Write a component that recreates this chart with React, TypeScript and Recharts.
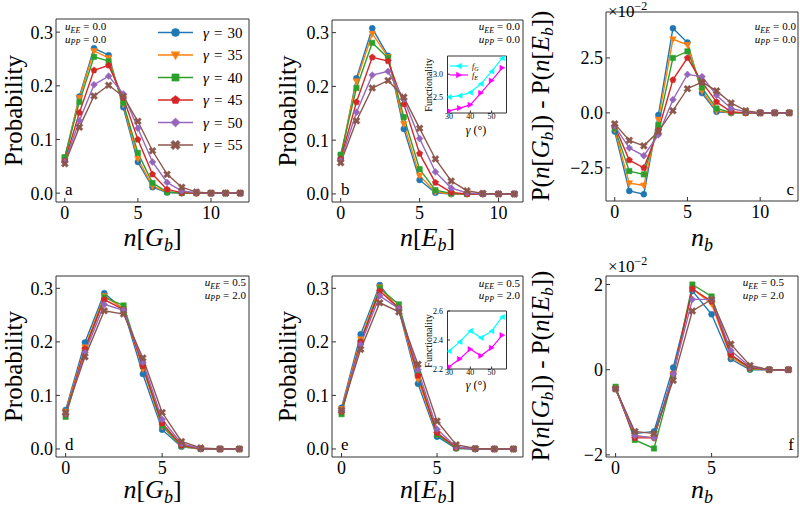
import React from 'react';
import { LineChart, Line, XAxis, YAxis } from 'recharts';

const FONT = '"Liberation Serif", "DejaVu Serif", serif';
const FRAME = '#333333';

// gamma values, one series per value
const gammas = [30, 35, 40, 45, 50, 55];
const colors = ['#1f77b4', '#ff7f0e', '#2ca02c', '#d62728', '#9467bd', '#8c564b'];
const markers = ['o', 'v', 's', 'p', 'D', 'X'];

// bond counts on the x axes
const nTopG = [0, 1, 2, 3, 4, 5, 6, 7, 8, 9, 10, 11, 12];
const nTopE = [0, 1, 2, 3, 4, 5, 6, 7, 8, 9, 10, 11];
const nBottom = [0, 1, 2, 3, 4, 5, 6, 7, 8, 9];

// (a) P(n[G_b]), uEE = 0.0, uPP = 0.0 -- rows ordered like gammas
const probGa = [
  [0.065, 0.180, 0.270, 0.257, 0.160, 0.058, 0.011, 0.001, 0, 0, 0, 0, 0],
  [0.066, 0.178, 0.265, 0.252, 0.165, 0.064, 0.013, 0.002, 0, 0, 0, 0, 0],
  [0.067, 0.170, 0.254, 0.246, 0.168, 0.075, 0.019, 0.002, 0.0003, 0, 0, 0, 0],
  [0.060, 0.150, 0.229, 0.238, 0.178, 0.100, 0.035, 0.007, 0.001, 0, 0, 0, 0],
  [0.058, 0.135, 0.202, 0.218, 0.185, 0.121, 0.058, 0.020, 0.004, 0.001, 0, 0, 0],
  [0.055, 0.123, 0.181, 0.201, 0.180, 0.134, 0.079, 0.035, 0.011, 0.002, 0, 0, 0],
];

// (b) P(n[E_b]), uEE = 0.0, uPP = 0.0
const probEb = [
  [0.065, 0.215, 0.308, 0.257, 0.121, 0.026, 0.002, 0, 0, 0, 0, 0],
  [0.070, 0.210, 0.298, 0.255, 0.130, 0.034, 0.004, 0, 0, 0, 0, 0],
  [0.073, 0.197, 0.281, 0.253, 0.143, 0.046, 0.007, 0.001, 0, 0, 0, 0],
  [0.065, 0.171, 0.254, 0.247, 0.167, 0.075, 0.021, 0.003, 0, 0, 0, 0],
  [0.062, 0.152, 0.221, 0.228, 0.176, 0.103, 0.041, 0.011, 0.002, 0, 0, 0],
  [0.058, 0.136, 0.197, 0.211, 0.180, 0.122, 0.065, 0.024, 0.006, 0.001, 0, 0],
];

// (c) P(n[G_b]) - P(n[E_b]), uEE = 0.0, uPP = 0.0
const diffC = [
  [-0.0085, -0.0355, -0.037, -0.001, 0.0385, 0.032, 0.009, 0.0005, 0, 0, 0, 0, 0],
  [-0.0075, -0.032, -0.033, -0.003, 0.0335, 0.031, 0.010, 0.001, 0, 0, 0, 0, 0],
  [-0.007, -0.0265, -0.028, -0.0055, 0.025, 0.028, 0.0115, 0.002, 0.0002, 0, 0, 0, 0],
  [-0.006, -0.0215, -0.025, -0.008, 0.015, 0.025, 0.014, 0.005, 0.0005, 0, 0, 0, 0],
  [-0.006, -0.016, -0.0195, -0.010, 0.006, 0.0175, 0.0165, 0.008, 0.002, 0.0005, 0, 0, 0],
  [-0.005, -0.0125, -0.015, -0.0085, 0.001, 0.011, 0.014, 0.010, 0.0045, 0.001, 0, 0, 0],
];

// (d) P(n[G_b]), uEE = 0.5, uPP = 2.0
const probGd = [
  [0.073, 0.199, 0.291, 0.260, 0.140, 0.036, 0.004, 0, 0, 0],
  [0.070, 0.190, 0.286, 0.262, 0.150, 0.042, 0.005, 0, 0, 0],
  [0.060, 0.185, 0.283, 0.268, 0.155, 0.044, 0.006, 0.0005, 0, 0],
  [0.065, 0.187, 0.279, 0.260, 0.155, 0.048, 0.007, 0.0005, 0, 0],
  [0.066, 0.180, 0.270, 0.259, 0.162, 0.055, 0.010, 0.001, 0, 0],
  [0.068, 0.172, 0.258, 0.252, 0.170, 0.068, 0.014, 0.002, 0, 0],
];

// (e) P(n[E_b]), uEE = 0.5, uPP = 2.0
const probEe = [
  [0.077, 0.214, 0.306, 0.260, 0.122, 0.023, 0.001, 0, 0, 0],
  [0.075, 0.205, 0.302, 0.262, 0.130, 0.027, 0.002, 0, 0, 0],
  [0.065, 0.200, 0.300, 0.270, 0.140, 0.027, 0.002, 0, 0, 0],
  [0.070, 0.200, 0.295, 0.263, 0.137, 0.030, 0.003, 0, 0, 0],
  [0.072, 0.195, 0.286, 0.262, 0.148, 0.037, 0.004, 0, 0, 0],
  [0.072, 0.186, 0.273, 0.256, 0.158, 0.052, 0.008, 0.001, 0, 0],
];

// (f) P(n[G_b]) - P(n[E_b]), uEE = 0.5, uPP = 2.0
const diffF = [
  [-0.0045, -0.015, -0.0145, 0.0005, 0.0185, 0.013, 0.0025, 0, 0, 0],
  [-0.0045, -0.0155, -0.016, -0.001, 0.019, 0.0155, 0.003, 0.0002, 0, 0],
  [-0.004, -0.0165, -0.0185, -0.0015, 0.020, 0.0172, 0.0035, 0.0003, 0, 0],
  [-0.0045, -0.016, -0.016, -0.001, 0.019, 0.016, 0.0035, 0.0005, 0, 0],
  [-0.0045, -0.0155, -0.016, -0.001, 0.0165, 0.0165, 0.0045, 0.0007, 0, 0],
  [-0.0045, -0.0145, -0.015, -0.0025, 0.0138, 0.0165, 0.006, 0.001, 0, 0],
];

// insets: functionality vs gamma
const fGb = [2.50, 2.53, 2.60, 2.79, 3.06, 3.35];
const fEb = [2.20, 2.26, 2.33, 2.59, 2.86, 3.14];
const fGe = [2.323, 2.387, 2.463, 2.415, 2.461, 2.559];
const fEe = [2.216, 2.269, 2.337, 2.291, 2.346, 2.433];
const insetColors = ['#00ffff', '#ff00ff'];
const insetMarkers = ['<', '>'];

const boxA = { x: 56, y: 19, w: 193, h: 183 };
const boxB = { x: 332, y: 20, w: 191, h: 182 };
const boxC = { x: 606, y: 12, w: 192, h: 189 };
const boxD = { x: 56, y: 276, w: 193, h: 181 };
const boxE = { x: 332, y: 276, w: 191, h: 181 };
const boxF = { x: 606, y: 276, w: 192, h: 181 };
const boxIB = { x: 447.5, y: 56, w: 59, h: 57 };
const boxIE = { x: 447.5, y: 311, w: 59, h: 58 };

const minus = (s: string) => s.replace('-', '\u2212');
const fmt1 = (v: number) => minus(v.toFixed(1));
const fmtC = (v: number) => minus((v * 100).toFixed(1));
const fmtF = (v: number) => minus((v * 100).toFixed(0));

function markerPath(type: string, cx: number, cy: number, s: number) {
  switch (type) {
    case 'v':
      return `M${cx - s * 1.1},${cy - s * 0.8}L${cx + s * 1.1},${cy - s * 0.8}L${cx},${cy + s * 1.2}Z`;
    case 's':
      return `M${cx - s * 0.9},${cy - s * 0.9}h${s * 1.8}v${s * 1.8}h${-s * 1.8}Z`;
    case 'p': {
      const pts = [0, 1, 2, 3, 4].map((i) => {
        const a = -Math.PI / 2 + (i * 2 * Math.PI) / 5;
        return `${cx + s * 1.1 * Math.cos(a)},${cy + s * 1.1 * Math.sin(a)}`;
      });
      return 'M' + pts.join('L') + 'Z';
    }
    case 'D':
      return `M${cx},${cy - s * 1.15}L${cx + s * 1.15},${cy}L${cx},${cy + s * 1.15}L${cx - s * 1.15},${cy}Z`;
    case 'X': {
      const L = s * 1.25;
      const w = s * 0.42;
      const raw = [[w, L], [w, w], [L, w], [L, -w], [w, -w], [w, -L], [-w, -L], [-w, -w], [-L, -w], [-L, w], [-w, w], [-w, L]];
      const pts = raw.map(([x, y]) => `${cx + (x - y) / Math.SQRT2},${cy + (x + y) / Math.SQRT2}`);
      return 'M' + pts.join('L') + 'Z';
    }
    case '<':
      return `M${cx - s * 1.1},${cy}L${cx + s},${cy - s * 1.1}L${cx + s},${cy + s * 1.1}Z`;
    case '>':
      return `M${cx + s * 1.1},${cy}L${cx - s},${cy - s * 1.1}L${cx - s},${cy + s * 1.1}Z`;
    default:
      return `M${cx - s},${cy}a${s},${s} 0 1,0 ${2 * s},0a${s},${s} 0 1,0 ${-2 * s},0Z`;
  }
}

const Mk = ({ cx, cy, type, s, color }: any) => {
  if (cx == null || cy == null || isNaN(cx) || isNaN(cy)) return <g />;
  return <path d={markerPath(type, cx, cy, s)} fill={color} stroke={color} strokeWidth={0.5} />;
};

function Panel({ box, xs, ys, cols, marks, xDomain, yDomain, xTicks, yTicks, yFmt, small }: any) {
  const rows = xs.map((x: number, i: number) => {
    const r: any = { x };
    ys.forEach((s: number[], k: number) => {
      r['s' + k] = s[i];
    });
    return r;
  });
  const fs = small ? 8 : 18;
  const tl = small ? 2.5 : 4;
  const tickStyle = { fontSize: fs, fill: '#000', fontFamily: FONT };
  const common: any = {
    axisLine: { stroke: FRAME, strokeWidth: 1 },
    tickLine: { stroke: FRAME, strokeWidth: 1 },
    tickSize: -tl,
    interval: 0,
    allowDataOverflow: true,
    type: 'number',
  };
  return (
    <div style={{ position: 'absolute', left: 0, top: 0 }}>
      <LineChart
        width={800}
        height={511}
        data={rows}
        style={{ fontFamily: FONT }}
        margin={{
          top: box.y - 1,
          left: box.x - 1,
          right: 800 - box.x - box.w - 1,
          bottom: 511 - box.y - box.h - 1,
        }}
      >
        <XAxis xAxisId="b" dataKey="x" {...common} domain={xDomain} ticks={xTicks} height={1} tickMargin={small ? 3 : 8} tick={tickStyle} />
        <XAxis xAxisId="t" orientation="top" {...common} domain={xDomain} ticks={xTicks} height={1} tick={false} />
        <YAxis yAxisId="l" {...common} domain={yDomain} ticks={yTicks} width={1} tickMargin={7} tick={tickStyle} tickFormatter={yFmt} />
        <YAxis yAxisId="r" orientation="right" {...common} domain={yDomain} ticks={yTicks} width={1} tick={false} />
        {ys.map((_: any, k: number) => (
          <Line
            key={k}
            xAxisId="b"
            yAxisId="l"
            dataKey={'s' + k}
            type="linear"
            stroke={cols[k]}
            strokeWidth={small ? 1.2 : 1.4}
            isAnimationActive={false}
            activeDot={false}
            dot={(p: any) => <Mk key={p.index} cx={p.cx} cy={p.cy} type={marks[k]} s={small ? 2.4 : 3} color={cols[k]} />}
          />
        ))}
      </LineChart>
    </div>
  );
}

const It = ({ children, ...rest }: any) => (
  <tspan fontStyle="italic" {...rest}>
    {children}
  </tspan>
);

function NTitle({ x, y, L }: { x: number; y: number; L?: string }) {
  return (
    <text x={x} y={y} textAnchor="middle" fontSize={26}>
      <It>n</It>
      {L ? (
        <>
          [<It>{L}</It>
          <It fontSize={18} dy={5}>b</It>
          <tspan dy={-5}>]</tspan>
        </>
      ) : (
        <It fontSize={18} dy={5}>b</It>
      )}
    </text>
  );
}

function ProbTitle({ x, y }: { x: number; y: number }) {
  return (
    <text x={x} y={y} transform={`rotate(-90 ${x} ${y})`} textAnchor="middle" fontSize={25}>
      Probability
    </text>
  );
}

function DiffTitle({ x, y }: { x: number; y: number }) {
  return (
    <text x={x} y={y} transform={`rotate(-90 ${x} ${y})`} textAnchor="middle" fontSize={25}>
      P(<It>n</It>[<It>G</It><It fontSize={17} dy={4}>b</It><tspan dy={-4}>]) - P(</tspan><It>n</It>[<It>E</It><It fontSize={17} dy={4}>b</It><tspan dy={-4}>])</tspan>
    </text>
  );
}

function UText({ x, y, anchor, sub, val }: any) {
  return (
    <text x={x} y={y} textAnchor={anchor} fontSize={11}>
      <It>u</It>
      <It fontSize={8} dy={2.5}>{sub}</It>
      <tspan dy={-2.5} dx={3}>=</tspan>
      <tspan dx={3}>{val}</tspan>
    </text>
  );
}

function Offset({ x, y }: { x: number; y: number }) {
  return (
    <text x={x} y={y} fontSize={17}>
      ×10<tspan fontSize={12} dy={-7}>{'\u22122'}</tspan>
    </text>
  );
}

export default function App() {
  return (
    <div style={{ position: 'absolute', left: 0, top: 0, width: 800, height: 511, background: '#fff', fontFamily: FONT }}>
      <Panel box={boxA} xs={nTopG} ys={probGa} cols={colors} marks={markers} xDomain={[-0.6, 12.6]} yDomain={[-0.0165, 0.3245]} xTicks={[0, 5, 10]} yTicks={[0, 0.1, 0.2, 0.3]} yFmt={fmt1} />
      <Panel box={boxB} xs={nTopE} ys={probEb} cols={colors} marks={markers} xDomain={[-0.55, 11.55]} yDomain={[-0.015, 0.3235]} xTicks={[0, 5, 10]} yTicks={[0, 0.1, 0.2, 0.3]} yFmt={fmt1} />
      <Panel box={boxC} xs={nTopG} ys={diffC} cols={colors} marks={markers} xDomain={[-0.6, 12.6]} yDomain={[-0.0401, 0.0459]} xTicks={[0, 5, 10]} yTicks={[-0.025, 0, 0.025]} yFmt={fmtC} />
      <Panel box={boxD} xs={nBottom} ys={probGd} cols={colors} marks={markers} xDomain={[-0.5, 9.5]} yDomain={[-0.015, 0.323]} xTicks={[0, 5]} yTicks={[0, 0.1, 0.2, 0.3]} yFmt={fmt1} />
      <Panel box={boxE} xs={nBottom} ys={probEe} cols={colors} marks={markers} xDomain={[-0.5, 9.5]} yDomain={[-0.015, 0.323]} xTicks={[0, 5]} yTicks={[0, 0.1, 0.2, 0.3]} yFmt={fmt1} />
      <Panel box={boxF} xs={nBottom} ys={diffF} cols={colors} marks={markers} xDomain={[-0.5, 9.5]} yDomain={[-0.0205, 0.022]} xTicks={[0, 5]} yTicks={[-0.02, 0, 0.02]} yFmt={fmtF} />

      <div style={{ position: 'absolute', left: boxIB.x, top: boxIB.y, width: boxIB.w, height: boxIB.h, background: '#fff' }} />
      <Panel box={boxIB} xs={gammas} ys={[fGb, fEb]} cols={insetColors} marks={insetMarkers} xDomain={[29.25, 57]} yDomain={[2.152, 3.398]} xTicks={[30, 40, 50]} yTicks={[2.5, 3.0]} yFmt={fmt1} small />
      <div style={{ position: 'absolute', left: boxIE.x, top: boxIE.y, width: boxIE.w, height: boxIE.h, background: '#fff' }} />
      <Panel box={boxIE} xs={gammas} ys={[fGe, fEe]} cols={insetColors} marks={insetMarkers} xDomain={[29.25, 57]} yDomain={[2.2, 2.6]} xTicks={[30, 40, 50]} yTicks={[2.2, 2.4, 2.6]} yFmt={fmt1} small />

      <svg width={800} height={511} style={{ position: 'absolute', left: 0, top: 0, pointerEvents: 'none', fontFamily: FONT }} fill="#000">
        <ProbTitle x={22} y={110.5} />
        <ProbTitle x={296} y={111} />
        <ProbTitle x={22} y={366.5} />
        <ProbTitle x={296} y={366.5} />
        <DiffTitle x={549} y={106} />
        <DiffTitle x={549} y={366} />

        <NTitle x={152.5} y={246} L="G" />
        <NTitle x={427.5} y={246} L="E" />
        <NTitle x={702} y={246} />
        <NTitle x={152.5} y={498} L="G" />
        <NTitle x={427.5} y={498} L="E" />
        <NTitle x={702} y={498} />

        <Offset x={608} y={16.5} />
        <Offset x={608} y={271.5} />

        <UText x={65} y={30} anchor="start" sub="EE" val="0.0" />
        <UText x={65} y={42.5} anchor="start" sub="PP" val="0.0" />
        <UText x={520} y={30} anchor="end" sub="EE" val="0.0" />
        <UText x={520} y={42.5} anchor="end" sub="PP" val="0.0" />
        <UText x={796} y={30} anchor="end" sub="EE" val="0.0" />
        <UText x={796} y={42.5} anchor="end" sub="PP" val="0.0" />
        <UText x={246} y={286} anchor="end" sub="EE" val="0.5" />
        <UText x={246} y={298.5} anchor="end" sub="PP" val="2.0" />
        <UText x={520} y={286.5} anchor="end" sub="EE" val="0.5" />
        <UText x={520} y={299} anchor="end" sub="PP" val="2.0" />
        <UText x={784} y={286} anchor="end" sub="EE" val="0.5" />
        <UText x={784} y={298.5} anchor="end" sub="PP" val="2.0" />

        <text x={65} y={195} fontSize={17}>a</text>
        <text x={341} y={195} fontSize={17}>b</text>
        <text x={794} y={195} fontSize={17} textAnchor="end">c</text>
        <text x={65} y={450} fontSize={17}>d</text>
        <text x={341} y={450} fontSize={17}>e</text>
        <text x={794} y={450} fontSize={17} textAnchor="end">f</text>

        {gammas.map((g, i) => {
          const cy = 32.5 + i * 22.5;
          return (
            <g key={g}>
              <line x1={158} x2={193} y1={cy} y2={cy} stroke={colors[i]} strokeWidth={1.5} />
              <Mk cx={175.5} cy={cy} type={markers[i]} s={4} color={colors[i]} />
              <text x={203} y={cy + 5} fontSize={15}>
                <It>γ</It>
                <tspan dx={5}>=</tspan>
                <tspan dx={5}>{g}</tspan>
              </text>
            </g>
          );
        })}

        {['G', 'E'].map((L, i) => {
          const cy = 66 + i * 9;
          return (
            <g key={L}>
              <line x1={450} x2={468} y1={cy} y2={cy} stroke={insetColors[i]} strokeWidth={1.2} />
              <Mk cx={459} cy={cy} type={insetMarkers[i]} s={2.6} color={insetColors[i]} />
              <text x={472} y={cy + 3} fontSize={8}>
                <It>f</It>
                <It fontSize={6} dy={1.5}>{L}</It>
              </text>
            </g>
          );
        })}
        <text x={432} y={85} transform="rotate(-90 432 85)" textAnchor="middle" fontSize={10}>Functionality</text>
        <text x={432} y={341} transform="rotate(-90 432 341)" textAnchor="middle" fontSize={10}>Functionality</text>
        <text x={476} y={134} textAnchor="middle" fontSize={12}>
          <It>γ</It> (°)
        </text>
        <text x={476} y={389} textAnchor="middle" fontSize={12}>
          <It>γ</It> (°)
        </text>
      </svg>
    </div>
  );
}
